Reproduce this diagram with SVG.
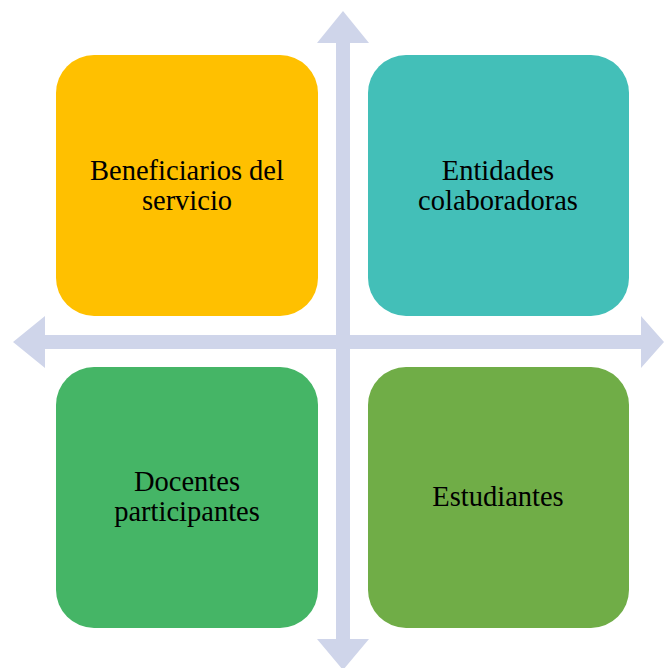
<svg xmlns="http://www.w3.org/2000/svg" width="664" height="668" viewBox="0 0 664 668">
<style>
.t{font-family:"Liberation Serif","Times New Roman",serif;font-size:28.5px;fill:#000;text-anchor:middle}
.a{fill:#CFD5EA}
</style>
<rect width="664" height="668" fill="#fff"/>
<g id="connectors">
<polygon class="a" points="13,342 45,316 45,335 641,335 641,316 664,342 641,368 641,349 45,349 45,368"/>
<polygon class="a" points="343,11 369,43 350,43 350,639 369,639 343,670 317,639 336,639 336,43 317,43"/>
</g>
<g id="beneficiarios">
<rect x="56" y="55" width="262" height="261" rx="38" fill="#FFC000"/>
<text class="t" x="187" y="180">Beneficiarios del</text>
<text class="t" x="187" y="209.5">servicio</text>
</g>
<g id="entidades">
<rect x="368" y="55" width="261" height="261" rx="38" fill="#43BFB8"/>
<text class="t" x="498" y="180">Entidades</text>
<text class="t" x="498" y="209.5">colaboradoras</text>
</g>
<g id="docentes">
<rect x="56" y="367" width="262" height="261" rx="38" fill="#45B566"/>
<text class="t" x="187" y="491">Docentes</text>
<text class="t" x="187" y="520.5">participantes</text>
</g>
<g id="estudiantes">
<rect x="368" y="367" width="261" height="261" rx="38" fill="#70AD47"/>
<text class="t" x="498" y="506">Estudiantes</text>
</g>
</svg>
